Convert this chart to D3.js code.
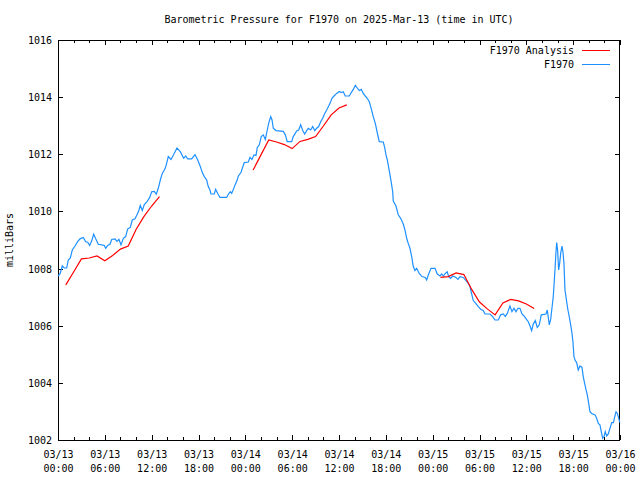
<!DOCTYPE html>
<html><head><meta charset="utf-8">
<script src="https://cdn.jsdelivr.net/npm/d3@7/dist/d3.min.js"></script>
<style>
body{margin:0;background:#fff;}
svg{display:block;}
text{font-family:"DejaVu Sans Mono","Liberation Mono",monospace;font-size:10px;fill:#000;}
</style></head>
<body>
<svg id="chart" width="640" height="480"></svg>
<script>
const title = "Barometric Pressure for F1970 on 2025-Mar-13 (time in UTC)";
const yLabel = "milliBars";
const seriesNames = ["F1970 Analysis", "F1970"];
const yTicks = [1002, 1004, 1006, 1008, 1010, 1012, 1014, 1016];
const startUTC = Date.UTC(2025, 2, 13, 0, 0);
const endUTC = Date.UTC(2025, 2, 16, 0, 0);

// F1970 observations: hours since 03/13 00:00 UTC and pressure (mb)
const obsHours = [0,0.26,0.55,0.81,1.11,1.32,1.58,1.83,2.18,2.52,2.82,3.24,3.55,3.80,4.06,4.32,4.57,4.83,5.16,5.60,5.93,6.11,6.37,6.66,6.88,7.30,7.56,7.81,8.07,8.37,8.67,8.93,9.26,9.52,9.86,10.12,10.38,10.54,10.80,11.06,11.40,11.75,12.00,12.34,12.59,12.85,13.11,13.36,13.71,13.87,14.13,14.48,14.82,15.24,15.67,16.10,16.36,16.62,17.13,17.55,17.90,18.23,18.49,18.74,19.05,19.25,19.47,19.60,20.02,20.20,20.46,20.75,21.61,21.82,22.07,22.25,22.46,22.67,22.93,23.10,23.44,23.61,23.87,24.38,24.60,24.85,25.11,25.37,25.53,25.79,26.04,26.30,26.56,26.81,26.99,27.25,27.42,27.58,27.93,28.86,29.12,29.37,29.94,30.14,30.58,30.84,31.09,31.35,31.60,31.86,32.07,32.37,32.63,32.89,33.14,33.40,33.65,33.91,34.17,34.42,34.68,34.93,35.10,35.36,35.70,36.04,36.29,36.55,36.80,37.32,37.57,37.83,38.09,38.34,38.60,38.86,39.11,39.37,39.62,39.88,40.06,40.23,40.39,40.65,40.83,40.99,41.16,41.67,41.85,42.02,42.19,42.36,42.53,42.70,42.88,42.95,43.30,43.59,43.90,44.23,44.45,44.67,44.87,45.09,45.31,45.52,45.73,45.95,46.28,46.63,47.05,47.23,47.49,47.78,48.30,48.59,48.94,49.16,49.36,49.62,49.87,50.05,50.31,50.56,50.99,51.24,51.50,51.92,52.27,52.56,52.78,53.00,53.20,53.55,53.84,54.19,54.48,54.70,55.34,55.69,55.98,56.41,56.71,57.05,57.30,57.56,57.90,58.16,58.42,58.67,58.93,59.18,59.44,59.70,59.95,60.25,60.47,60.68,60.89,61.15,61.40,61.66,61.91,62.52,62.68,62.94,63.12,63.28,63.45,63.54,63.67,63.80,63.89,64.01,64.14,64.27,64.40,64.57,64.69,64.82,64.95,65.17,65.33,65.50,65.68,65.85,65.97,66.10,66.27,66.45,66.65,66.87,67.13,67.29,67.47,67.64,67.81,67.99,68.15,68.37,68.80,69.01,69.22,69.43,69.60,69.78,69.95,70.11,70.29,70.50,70.72,70.94,71.15,71.33,71.49,71.66,71.84,71.97];
const obsValues = [1007.74,1007.81,1008.09,1008.02,1008.02,1008.30,1008.37,1008.65,1008.79,1008.94,1009.04,1009.09,1008.94,1008.92,1008.81,1008.97,1009.20,1009.04,1008.85,1008.83,1008.81,1008.71,1008.81,1008.85,1009.02,1009.04,1008.95,1009.02,1008.83,1009.06,1009.12,1009.39,1009.44,1009.70,1009.74,1009.88,1010.05,1010.21,1010.03,1010.24,1010.34,1010.49,1010.69,1010.70,1010.60,1010.81,1011.10,1011.33,1011.49,1011.63,1011.92,1011.82,1011.99,1012.22,1012.09,1011.86,1011.94,1011.84,1011.84,1011.99,1011.80,1011.57,1011.36,1011.22,1011.10,1010.87,1010.75,1010.61,1010.61,1010.77,1010.63,1010.49,1010.49,1010.60,1010.69,1010.63,1010.77,1010.92,1011.08,1011.24,1011.36,1011.51,1011.71,1011.73,1011.89,1011.82,1011.98,1011.96,1012.24,1012.33,1012.62,1012.68,1012.52,1012.85,1013.08,1013.32,1013.20,1012.91,1012.83,1012.80,1012.68,1012.44,1012.44,1012.62,1012.82,1012.85,1013.03,1012.83,1012.71,1012.83,1012.91,1012.85,1012.97,1012.83,1012.91,1012.97,1013.14,1013.26,1013.43,1013.55,1013.69,1013.84,1013.96,1014.04,1014.13,1014.20,1014.16,1014.19,1014.04,1014.04,1014.16,1014.27,1014.41,1014.32,1014.23,1014.27,1014.13,1014.04,1013.96,1013.84,1013.67,1013.49,1013.32,1013.08,1012.85,1012.64,1012.44,1012.43,1012.24,1011.98,1011.80,1011.55,1011.28,1011.01,1010.69,1010.36,1010.19,1009.88,1009.76,1009.56,1009.35,1009.06,1008.88,1008.71,1008.42,1008.07,1007.93,1008.01,1007.83,1007.72,1007.69,1007.60,1007.81,1008.01,1008.01,1007.81,1007.74,1007.81,1007.74,1007.83,1007.89,1007.72,1007.66,1007.74,1007.69,1007.62,1007.72,1007.69,1007.58,1007.48,1007.37,1007.11,1006.88,1006.77,1006.67,1006.57,1006.53,1006.41,1006.41,1006.32,1006.20,1006.20,1006.38,1006.41,1006.32,1006.43,1006.69,1006.49,1006.61,1006.49,1006.61,1006.61,1006.41,1006.34,1006.25,1006.14,1005.99,1005.83,1006.06,1006.18,1005.94,1006.03,1006.38,1006.41,1006.55,1006.03,1006.22,1006.61,1007.02,1007.39,1007.95,1008.59,1008.91,1008.63,1007.95,1008.18,1008.53,1008.79,1008.59,1008.18,1007.25,1006.84,1006.55,1006.32,1006.03,1005.73,1005.44,1004.92,1004.78,1004.71,1004.45,1004.59,1004.54,1004.22,1003.98,1003.77,1003.58,1003.28,1002.99,1002.93,1002.88,1002.76,1002.58,1002.53,1002.29,1002.06,1002.12,1002.29,1002.14,1002.21,1002.41,1002.61,1002.61,1002.82,1002.99,1002.93,1002.76,1002.61];

// F1970 Analysis: three 12-hour segments, hourly
const analysisHours = [1,2,3,4,5,6,7,8,9,10,11,12,13, 25,26,27,28,29,30,31,32,33,34,35,36,37, 49,50,51,52,53,54,55,56,57,58,59,60,61];
const analysisValues = [1007.43,1007.88,1008.34,1008.37,1008.44,1008.27,1008.46,1008.68,1008.79,1009.37,1009.82,1010.19,1010.52,
  1011.45,1011.98,1012.50,1012.43,1012.34,1012.20,1012.45,1012.52,1012.62,1012.99,1013.38,1013.62,1013.73,
  1007.69,1007.72,1007.85,1007.79,1007.27,1006.83,1006.59,1006.38,1006.80,1006.92,1006.87,1006.76,1006.60];

const colors = {analysis: "#ff0000", obs: "#1e90ff"};

const svg = d3.select("#chart");
const L = 58, R = 620, T = 40, B = 440;
const toDate = h => new Date(startUTC + h * 3600000);
const x = d3.scaleUtc().domain([new Date(startUTC), new Date(endUTC)]).range([L, R]);
const y = d3.scaleLinear().domain([1002, 1016]).range([B, T]);

svg.append("rect").attr("width", 640).attr("height", 480).attr("fill", "#fff");

const majorTicks = d3.utcHour.every(6).range(new Date(startUTC), new Date(endUTC + 1));
const minorTicks = d3.utcHour.every(2).range(new Date(startUTC), new Date(endUTC + 1));
const fmtDate = d3.utcFormat("%m/%d"), fmtTime = d3.utcFormat("%H:%M");

function styleAxis(g) {
  g.select(".domain").remove();
  g.selectAll("line").attr("stroke", "#000").attr("shape-rendering", "crispEdges");
}
// bottom axis (inward ticks) with two-line labels
const gb = svg.append("g").attr("transform", `translate(0,${B})`)
  .call(d3.axisBottom(x).tickValues(majorTicks).tickSize(-5).tickPadding(0).tickFormat(""));
styleAxis(gb);
gb.selectAll(".tick text").remove();
gb.selectAll(".tick").append("text").attr("text-anchor", "middle").attr("y", 18).text(d => fmtDate(d));
gb.selectAll(".tick").append("text").attr("text-anchor", "middle").attr("y", 32).text(d => fmtTime(d));
const gbm = svg.append("g").attr("transform", `translate(0,${B})`)
  .call(d3.axisBottom(x).tickValues(minorTicks).tickSize(-3).tickFormat(""));
styleAxis(gbm);
// top mirror
const gt = svg.append("g").attr("transform", `translate(0,${T})`)
  .call(d3.axisTop(x).tickValues(majorTicks).tickSize(-5).tickFormat(""));
styleAxis(gt);
const gtm = svg.append("g").attr("transform", `translate(0,${T})`)
  .call(d3.axisTop(x).tickValues(minorTicks).tickSize(-3).tickFormat(""));
styleAxis(gtm);
// left axis
const gl = svg.append("g").attr("transform", `translate(${L},0)`)
  .call(d3.axisLeft(y).tickValues(yTicks).tickSize(-5).tickPadding(6).tickFormat(d3.format("d")));
styleAxis(gl);
gl.selectAll("text").attr("dy", "0.35em").attr("x", -6);
// right mirror
const gr = svg.append("g").attr("transform", `translate(${R},0)`)
  .call(d3.axisRight(y).tickValues(yTicks).tickSize(-5).tickFormat(""));
styleAxis(gr);

// border
svg.append("rect").attr("x", L + 0.5).attr("y", T + 0.5).attr("width", R - L - 1).attr("height", B - T)
  .attr("fill", "none").attr("stroke", "#000").attr("stroke-width", 1).attr("shape-rendering", "crispEdges");

// lines
const obs = obsHours.map((h, i) => ({t: toDate(h), v: obsValues[i]}));
const ana = analysisHours.map((h, i) => ({t: toDate(h), v: analysisValues[i], seg: Math.floor(h / 24)}));
const line = d3.line().x(d => x(d.t)).y(d => y(d.v));

svg.append("path").datum(obs).attr("d", line).attr("fill", "none")
  .attr("stroke", colors.obs).attr("stroke-width", 1.2);
d3.groups(ana, d => d.seg).forEach(([k, seg]) => {
  svg.append("path").datum(seg).attr("d", line).attr("fill", "none")
    .attr("stroke", colors.analysis).attr("stroke-width", 1.2);
});

// title & labels
svg.append("text").attr("x", 339).attr("y", 23).attr("text-anchor", "middle").text(title);
svg.append("text").attr("transform", "translate(13,240) rotate(-90)").attr("text-anchor", "middle").text(yLabel);

// legend
const legend = [{name: seriesNames[0], c: colors.analysis, y: 50}, {name: seriesNames[1], c: colors.obs, y: 64}];
legend.forEach(l => {
  svg.append("text").attr("x", 574).attr("y", l.y).attr("dy", "0.35em").attr("text-anchor", "end").text(l.name);
  svg.append("line").attr("x1", 582).attr("x2", 610).attr("y1", l.y + 0.5).attr("y2", l.y + 0.5)
    .attr("stroke", l.c).attr("stroke-width", 1);
});
</script>
</body></html>
